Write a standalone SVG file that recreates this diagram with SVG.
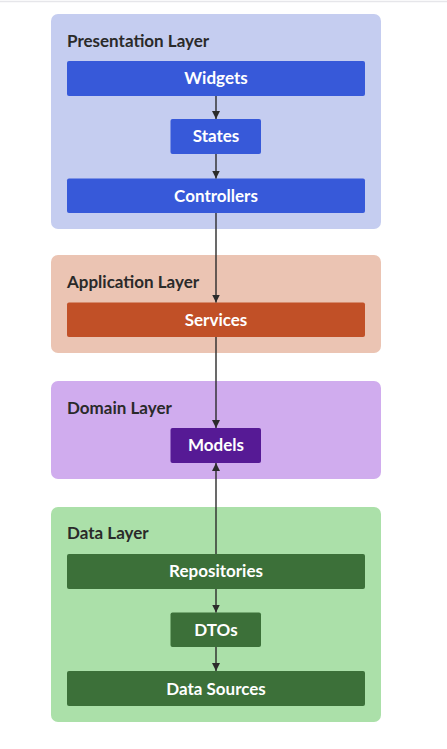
<svg xmlns="http://www.w3.org/2000/svg" width="447" height="749" viewBox="0 0 447 749">
<defs>
<marker id="ah" viewBox="0 0 10 10" refX="10" refY="5" markerWidth="8" markerHeight="8" orient="auto-start-reverse" markerUnits="userSpaceOnUse">
<path d="M0,0 L10,5 L0,10 z" fill="#2b2b2b"/>
</marker>
<style>
.title{font-family:Lato,"Liberation Sans",sans-serif;font-weight:bold;font-size:17px;fill:#2a2a2a}
.lbl{font-family:Lato,"Liberation Sans",sans-serif;font-weight:bold;font-size:17px;fill:#ffffff;text-anchor:middle}
.edge{stroke:#2b2b2b;stroke-width:1.4;fill:none;marker-end:url(#ah)}
</style>
</defs>
<rect width="447" height="749" fill="#ffffff"/>
<line x1="0" y1="1.5" x2="447" y2="1.5" stroke="#e6e6ea" stroke-width="1.5"/>
<g id="presentation-layer">
<rect x="51" y="14" width="330" height="215" rx="7" fill="#c5cdf0"/>
<text class="title" x="67" y="47">Presentation Layer</text>
</g>
<g id="application-layer">
<rect x="51" y="255" width="330" height="98" rx="7" fill="#ebc4b3"/>
<text class="title" x="67" y="288">Application Layer</text>
</g>
<g id="domain-layer">
<rect x="51" y="381" width="330" height="98" rx="7" fill="#d0acee"/>
<text class="title" x="67" y="414">Domain Layer</text>
</g>
<g id="data-layer">
<rect x="51" y="507" width="330" height="215" rx="7" fill="#abe0a9"/>
<text class="title" x="67" y="539">Data Layer</text>
</g>
<g id="widgets"><rect x="67" y="61" width="298" height="35" rx="2" fill="#3759d9"/><text class="lbl" x="216" y="84">Widgets</text></g>
<g id="states"><rect x="170.5" y="119" width="90.5" height="35" rx="2" fill="#3759d9"/><text class="lbl" x="216" y="142">States</text></g>
<g id="controllers"><rect x="67" y="178.5" width="298" height="34.5" rx="2" fill="#3759d9"/><text class="lbl" x="216" y="202">Controllers</text></g>
<g id="services"><rect x="67" y="302.5" width="298" height="34.5" rx="2" fill="#c15027"/><text class="lbl" x="216" y="326">Services</text></g>
<g id="models"><rect x="170.5" y="428" width="90.5" height="35" rx="2" fill="#561a95"/><text class="lbl" x="216" y="451">Models</text></g>
<g id="repositories"><rect x="67" y="554" width="298" height="35" rx="2" fill="#3c7039"/><text class="lbl" x="216" y="577">Repositories</text></g>
<g id="dtos"><rect x="170.5" y="612.5" width="90.5" height="34.5" rx="2" fill="#3c7039"/><text class="lbl" x="216" y="636">DTOs</text></g>
<g id="data-sources"><rect x="67" y="671" width="298" height="35" rx="2" fill="#3c7039"/><text class="lbl" x="216" y="695">Data Sources</text></g>
<g id="connectors">
<path class="edge" d="M216,96 V119"/>
<path class="edge" d="M216,154 V178.5"/>
<path class="edge" d="M216,213 V302.5"/>
<path class="edge" d="M216,337 V428"/>
<path class="edge" d="M216,554 V463"/>
<path class="edge" d="M216,589 V612.5"/>
<path class="edge" d="M216,647 V671"/>
</g>
</svg>
